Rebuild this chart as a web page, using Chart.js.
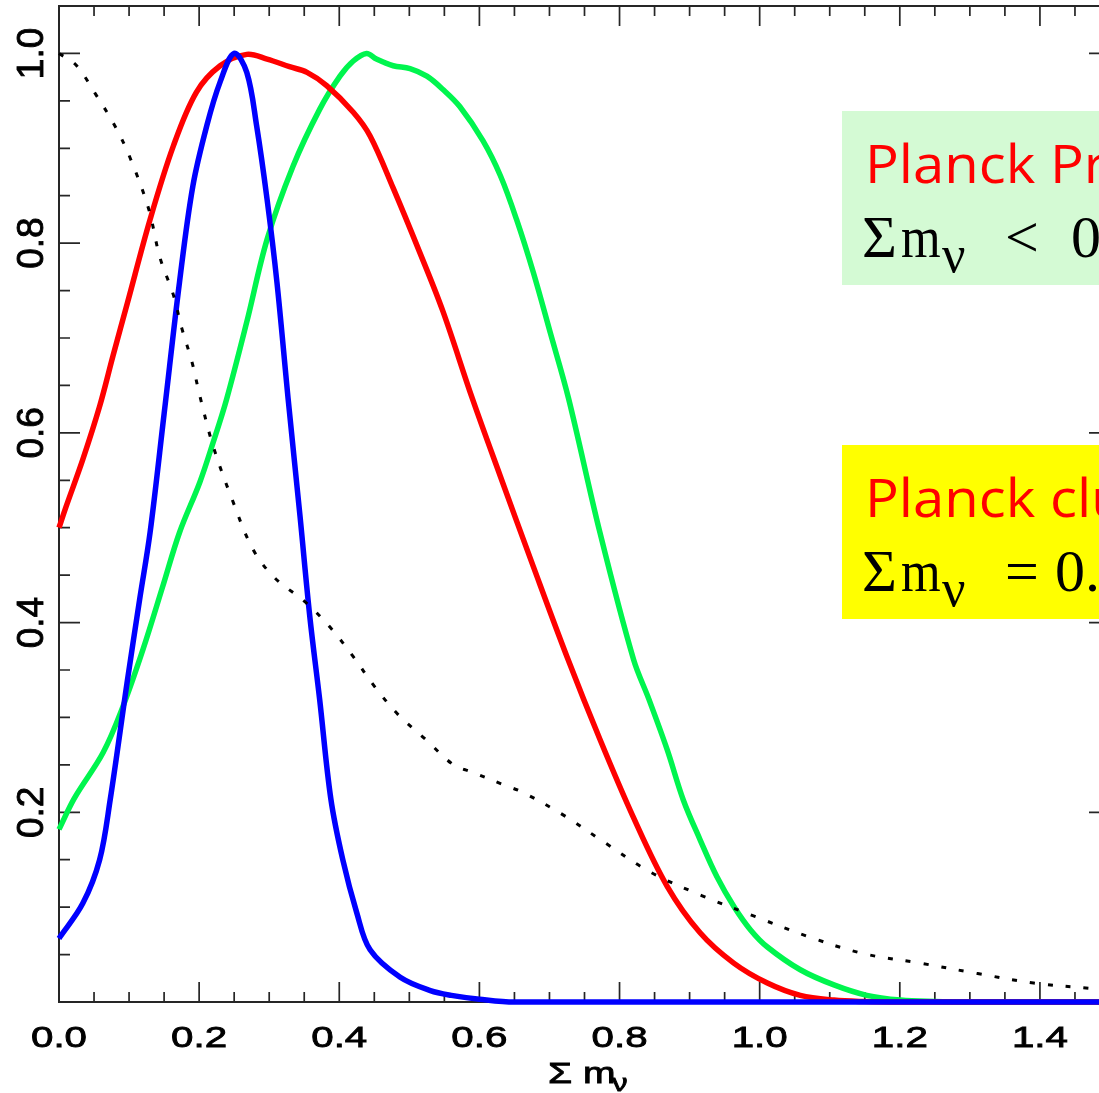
<!DOCTYPE html>
<html>
<head>
<meta charset="utf-8">
<script src="https://cdn.jsdelivr.net/npm/chart.js@4.4.1/dist/chart.umd.min.js"></script>
<style>
  html, body { margin: 0; padding: 0; overflow: hidden; background: #fff; }
  canvas { display: block; }
</style>
</head>
<body>
<canvas id="c" width="1112" height="1093"></canvas>
<script>
// Normalised posteriors of the summed neutrino mass
const redX = [0, 0.01, 0.034, 0.058, 0.077, 0.098, 0.13, 0.163, 0.196, 0.23, 0.268, 0.297, 0.329, 0.354, 0.382, 0.42, 0.444, 0.477, 0.515, 0.548, 0.59, 0.63, 0.677, 0.725, 0.772, 0.819, 0.868, 0.915, 0.963, 1.011, 1.058, 1.106, 1.15, 1.2, 1.3, 1.5];
const redY = [0.5, 0.522, 0.572, 0.628, 0.681, 0.738, 0.825, 0.902, 0.959, 0.987, 0.999, 0.994, 0.986, 0.980, 0.966, 0.938, 0.913, 0.858, 0.790, 0.728, 0.636, 0.554, 0.459, 0.364, 0.277, 0.196, 0.122, 0.073, 0.041, 0.020, 0.007, 0.002, 0.0005, 0, 0, 0];

const greenX = [0, 0.022, 0.063, 0.091, 0.12, 0.148, 0.172, 0.201, 0.22, 0.239, 0.268, 0.297, 0.334, 0.372, 0.401, 0.42, 0.439, 0.453, 0.477, 0.501, 0.525, 0.548, 0.572, 0.605, 0.63, 0.653, 0.677, 0.701, 0.727, 0.772, 0.82, 0.842, 0.868, 0.891, 0.915, 0.939, 0.963, 0.987, 1.011, 1.058, 1.106, 1.153, 1.201, 1.25, 1.3, 1.5];
const greenY = [0.182, 0.215, 0.263, 0.311, 0.372, 0.438, 0.495, 0.548, 0.59, 0.635, 0.717, 0.804, 0.881, 0.941, 0.976, 0.992, 1.0, 0.994, 0.987, 0.984, 0.976, 0.962, 0.944, 0.908, 0.871, 0.825, 0.769, 0.706, 0.637, 0.495, 0.361, 0.319, 0.266, 0.213, 0.171, 0.132, 0.101, 0.076, 0.058, 0.034, 0.018, 0.007, 0.002, 0.0005, 0, 0];

const blueX = [0, 0.034, 0.058, 0.073, 0.097, 0.115, 0.13, 0.15, 0.172, 0.191, 0.211, 0.23, 0.25, 0.268, 0.282, 0.297, 0.311, 0.327, 0.344, 0.358, 0.372, 0.388, 0.405, 0.425, 0.444, 0.487, 0.53, 0.56, 0.6, 0.65, 1.5];
const blueY = [0.067, 0.104, 0.15, 0.213, 0.336, 0.424, 0.495, 0.62, 0.759, 0.86, 0.924, 0.97, 1.0, 0.98, 0.924, 0.846, 0.759, 0.636, 0.512, 0.406, 0.319, 0.214, 0.15, 0.094, 0.055, 0.026, 0.012, 0.007, 0.003, 0, 0];

const dotX = [0, 0.024, 0.054, 0.081, 0.102, 0.128, 0.144, 0.163, 0.175, 0.19, 0.201, 0.22, 0.247, 0.277, 0.308, 0.351, 0.387, 0.42, 0.451, 0.484, 0.523, 0.563, 0.587, 0.638, 0.662, 0.72, 0.777, 0.844, 0.918, 0.994, 1.069, 1.148, 1.229, 1.311, 1.391, 1.475, 1.5];
const dotY = [1.0, 0.988, 0.955, 0.922, 0.889, 0.836, 0.785, 0.746, 0.711, 0.674, 0.639, 0.586, 0.530, 0.477, 0.447, 0.422, 0.395, 0.364, 0.332, 0.303, 0.277, 0.25, 0.243, 0.228, 0.221, 0.197, 0.169, 0.137, 0.112, 0.090, 0.069, 0.051, 0.041, 0.030, 0.020, 0.014, 0.012];

const xTickValues = [0, 0.2, 0.4, 0.6, 0.8, 1.0, 1.2, 1.4];
const xTickLabels = ['0.0', '0.2', '0.4', '0.6', '0.8', '1.0', '1.2', '1.4'];
const yTickValues = [0.2, 0.4, 0.6, 0.8, 1.0];
const yTickLabels = ['0.2', '0.4', '0.6', '0.8', '1.0'];

const boxPrimaryTitle = 'Planck Primary';
const boxPrimaryRel = '<';
const boxPrimaryValue = '0.23 eV';
const boxClusterTitle = 'Planck clusters';
const boxClusterRel = '=';
const boxClusterValue = '0.22 ± 0.09 eV';

const X_MIN = 0, X_MAX = 1.5, Y_MIN = 0, Y_MAX = 1.05;
const MINOR_STEP = 0.05;

function pts(xs, ys) { return xs.map((x, i) => ({ x: x, y: ys[i] })); }

// Slightly heavier glyphs, like the plotting package's vector font
function heavyText(ctx, s, x, y) {
  ctx.fillText(s, x, y);
  ctx.strokeText(s, x, y);
}

// Frame with inward major/minor ticks on all four sides
const framePlugin = {
  id: 'frame',
  beforeDatasetsDraw(chart) {
    const { ctx, chartArea: a, scales: { x, y } } = chart;
    ctx.save();
    ctx.strokeStyle = '#262626';
    ctx.lineWidth = 2;
    ctx.strokeRect(a.left, a.top, a.right - a.left, a.bottom - a.top);
    ctx.lineWidth = 1.7;
    ctx.beginPath();
    const nx = Math.round((X_MAX - X_MIN) / MINOR_STEP);
    for (let i = 0; i <= nx; i++) {
      const px = x.getPixelForValue(X_MIN + i * MINOR_STEP);
      const len = i % 4 === 0 ? 20 : 10;
      ctx.moveTo(px, a.bottom); ctx.lineTo(px, a.bottom - len);
      ctx.moveTo(px, a.top); ctx.lineTo(px, a.top + len);
    }
    const ny = Math.floor((Y_MAX - Y_MIN) / MINOR_STEP + 1e-6);
    for (let i = 0; i <= ny; i++) {
      const py = y.getPixelForValue(Y_MIN + i * MINOR_STEP);
      const len = i % 4 === 0 ? 21 : 11;
      ctx.moveTo(a.left, py); ctx.lineTo(a.left + len, py);
      ctx.moveTo(a.right, py); ctx.lineTo(a.right - len, py);
    }
    ctx.stroke();
    ctx.restore();
  },
  afterDraw(chart) {
    const { ctx, chartArea: a, scales: { x, y } } = chart;
    ctx.save();
    ctx.fillStyle = '#000';
    ctx.strokeStyle = '#000';
    ctx.lineWidth = 0.9;
    // x tick labels
    ctx.font = '32px "Liberation Sans", Arial, sans-serif';
    ctx.textAlign = 'center';
    ctx.textBaseline = 'alphabetic';
    xTickValues.forEach((v, i) => {
      ctx.save();
      ctx.translate(x.getPixelForValue(v), a.bottom + 45);
      ctx.scale(1.26, 0.94);
      heavyText(ctx, xTickLabels[i], 0, 0);
      ctx.restore();
    });
    // y tick labels, rotated
    ctx.font = '37px "Liberation Sans", Arial, sans-serif';
    yTickValues.forEach((v, i) => {
      ctx.save();
      ctx.translate(a.left - 16, y.getPixelForValue(v));
      ctx.rotate(-Math.PI / 2);
      heavyText(ctx, yTickLabels[i], 0, 0);
      ctx.restore();
    });
    // x axis title: Σ m_ν
    ctx.textAlign = 'left';
    ctx.save();
    ctx.translate(548, 1083);
    ctx.scale(1.26, 0.94);
    ctx.font = '31px "Liberation Sans", Arial, sans-serif';
    heavyText(ctx, 'Σ m', 0, 0);
    ctx.restore();
    ctx.save();
    ctx.translate(612, 1091);
    ctx.scale(1.2, 0.94);
    ctx.font = '26px "Liberation Sans", Arial, sans-serif';
    heavyText(ctx, 'ν', 0, 0);
    ctx.restore();

    // annotation boxes
    drawBox(ctx, 111, '#d4fad4', boxPrimaryTitle, boxPrimaryRel, boxPrimaryValue, 1071);
    drawBox(ctx, 445, '#ffff00', boxClusterTitle, boxClusterRel, boxClusterValue, 1055);
    ctx.restore();
  }
};

function drawBox(ctx, top, fill, title, rel, value, valueX) {
  ctx.save();
  ctx.fillStyle = fill;
  ctx.fillRect(842, top, 300, 174);
  ctx.textAlign = 'left';
  ctx.textBaseline = 'alphabetic';
  // red heading
  ctx.fillStyle = '#ff0000';
  ctx.font = '53px "Open Sans", sans-serif';
  const w = ctx.measureText('Planck ').width;
  ctx.save();
  ctx.translate(865, top + 72);
  ctx.scale(185 / w, 1);
  ctx.fillText(title, 0, 0);
  ctx.restore();
  // formula line
  ctx.fillStyle = '#000';
  const base = top + 146;
  ctx.font = '60px "Liberation Serif", "Times New Roman", serif';
  ctx.fillText('Σ', 862, base);
  ctx.save();
  ctx.translate(901, base);
  ctx.scale(0.85, 1);
  ctx.fillText('m', 0, 0);
  ctx.restore();
  ctx.font = '52px "Liberation Serif", "Times New Roman", serif';
  ctx.fillText('ν', 942, base + 15);
  ctx.font = '60px "Liberation Serif", "Times New Roman", serif';
  ctx.fillText(rel, 1005, base);
  ctx.fillText(value, valueX, base);
  ctx.restore();
}

new Chart(document.getElementById('c').getContext('2d'), {
  type: 'line',
  data: {
    datasets: [
      { label: 'prior', data: pts(dotX, dotY), borderColor: '#000', borderWidth: 3, borderDash: [5, 13], order: -1 },
      { label: 'blue', data: pts(blueX, blueY), borderColor: '#0000ff', borderWidth: 5.5, order: 0 },
      { label: 'red', data: pts(redX, redY), borderColor: '#ff0000', borderWidth: 5.5, order: 1 },
      { label: 'green', data: pts(greenX, greenY), borderColor: '#00f54e', borderWidth: 5.5, order: 2 }
    ]
  },
  options: {
    responsive: false,
    animation: false,
    layout: { padding: { left: 59, right: 2, top: 6, bottom: 91 } },
    scales: {
      x: { type: 'linear', min: X_MIN, max: X_MAX, display: false },
      y: { type: 'linear', min: Y_MIN, max: Y_MAX, display: false }
    },
    plugins: { legend: { display: false }, tooltip: { enabled: false } },
    elements: {
      point: { radius: 0 },
      line: { tension: 0.35, fill: false, borderCapStyle: 'butt', borderJoinStyle: 'round' }
    },
    datasets: { line: { clip: false } }
  },
  plugins: [framePlugin]
});
</script>
</body>
</html>
